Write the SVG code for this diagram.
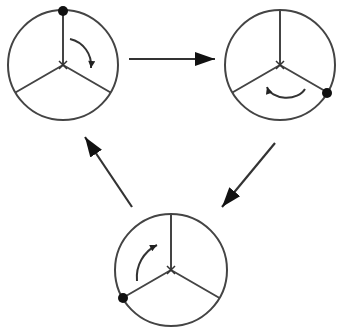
<svg xmlns="http://www.w3.org/2000/svg" width="338" height="331" viewBox="0 0 338 331">
<defs>
<marker id="ah" viewBox="0 0 10 10" refX="10" refY="5" markerWidth="10" markerHeight="7" markerUnits="userSpaceOnUse" orient="auto">
<path d="M0,0 L10,5 L0,10 z" fill="#222"/>
</marker>
<marker id="big" viewBox="0 0 20 14" refX="20" refY="7" markerWidth="20" markerHeight="14" markerUnits="userSpaceOnUse" orient="auto">
<path d="M0,0 L20,7 L0,14 z" fill="#111"/>
</marker>
</defs>
<style>
.rim{fill:none;stroke:#444;stroke-width:2}
.sp{stroke:#444;stroke-width:2;fill:none}
.x{stroke:#333;stroke-width:1.5}
.rot{fill:none;stroke:#333;stroke-width:2;marker-end:url(#ah)}
.dot{fill:#111}
.con{stroke:#333;stroke-width:2.2;fill:none;marker-end:url(#big)}
</style>
<rect width="338" height="331" fill="#fff"/>
<g id="state1">
<circle class="rim" cx="63" cy="65" r="55"/>
<path class="sp" d="M63,65 L63,10 M63,65 L15.4,92.5 M63,65 L110.6,92.5"/>
<path class="x" d="M59,61 L67,69 M67,61 L59,69"/>
<path class="rot" d="M70,39 A27,27 0 0 1 91,68"/>
<circle class="dot" cx="63" cy="11" r="5"/>
</g>
<g id="state2">
<circle class="rim" cx="280" cy="65" r="55"/>
<path class="sp" d="M280,65 L280,10 M280,65 L232.4,92.5 M280,65 L327.6,92.5"/>
<path class="x" d="M276,61 L284,69 M284,61 L276,69"/>
<path class="rot" d="M305,89 A20,14 0 0 1 267,87"/>
<circle class="dot" cx="327" cy="93" r="5"/>
</g>
<g id="state3">
<circle class="rim" cx="171" cy="270" r="56"/>
<path class="sp" d="M171,270 L171,214 M171,270 L122.5,298 M171,270 L219.5,298"/>
<path class="x" d="M167,266 L175,274 M175,266 L167,274"/>
<path class="rot" d="M137,281 A36,36 0 0 1 157,245"/>
<circle class="dot" cx="123" cy="298" r="5"/>
</g>
<g id="connectors">
<path class="con" d="M129,59 L215,59"/>
<path class="con" d="M275,143 L222,207"/>
<path class="con" d="M132,207 L85,137"/>
</g>
</svg>
